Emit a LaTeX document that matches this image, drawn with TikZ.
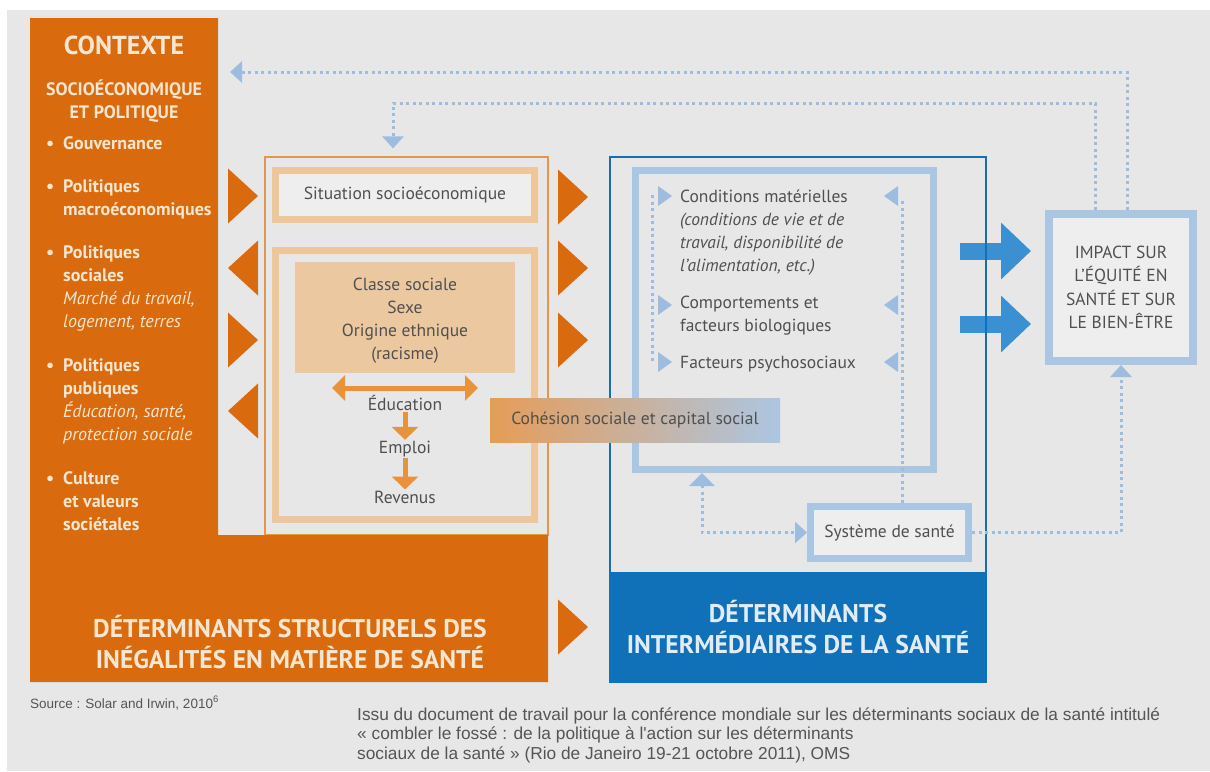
\documentclass[tikz,border=0pt]{standalone}
\usepackage{fontspec}
\setsansfont{PT Sans}
\newfontfamily\footfont{Liberation Sans}
\usetikzlibrary{arrows.meta, positioning}

\tikzset{
  otriR/.pic={\fill[orangeC] (-15,-27.5) -- (15,0) -- (-15,27.5) -- cycle;},
  otriL/.pic={\fill[orangeC] (15,-27.5) -- (-15,0) -- (15,27.5) -- cycle;},
  btriR/.pic={\fill[dotblue] (-7,-10) -- (7,0) -- (-7,10) -- cycle;},
  btriL/.pic={\fill[dotblue] (7,-10) -- (-7,0) -- (7,10) -- cycle;},
}

\begin{document}
\begin{tikzpicture}[x=1pt, y=-1pt,
    font=\sffamily\fontsize{17.5}{23}\selectfont,
    ctxtext/.style={text=cream, inner sep=0pt},
    ctxitem/.style={ctxtext, anchor=base west, align=left, font=\sffamily\bfseries\fontsize{18}{23.3}\selectfont},
    orframe/.style={draw=lightor, line width=7pt, inner sep=0pt, text=textgray},
    blframe/.style={draw=lightblue, line width=7pt, inner sep=0pt, text=textgray},
    plain/.style={text=textgray, inner sep=1pt},
    dotline/.style={draw=dotblue, line width=3pt, dash pattern=on 3pt off 3.5pt},
    dottip/.style={-{Triangle[width=21pt,length=12pt]}},
    orarrow/.style={draw=orarrowC, line width=5pt},
    bigarrow/.style={draw=arrowblue, line width=17pt, -{Triangle[width=55pt,length=30pt]}},
    bigtitle/.style={inner sep=0pt, align=center, font=\sffamily\bfseries\fontsize{25.6}{30.5}\selectfont}]
   \definecolor{bggray}{RGB}{231,231,231}
   \definecolor{innergray}{RGB}{238,238,238}
   \definecolor{orangeC}{RGB}{217,107,14}
   \definecolor{cream}{RGB}{248,230,208}
   \definecolor{lightor}{RGB}{238,198,156}
   \definecolor{tanfill}{RGB}{236,200,160}
   \definecolor{orline}{RGB}{232,150,70}
   \definecolor{orarrowC}{RGB}{232,146,58}
   \definecolor{blueC}{RGB}{16,112,184}
   \definecolor{lightblue}{RGB}{170,198,226}
   \definecolor{dotblue}{RGB}{158,188,222}
   \definecolor{arrowblue}{RGB}{58,144,208}
   \definecolor{textgray}{RGB}{80,80,80}
   \definecolor{footgray}{RGB}{85,85,85}
   \definecolor{bluetext}{RGB}{226,236,246}
   \definecolor{cohL}{RGB}{230,156,88}
   \definecolor{cohM}{RGB}{236,228,220}
   \definecolor{cohR}{RGB}{172,198,226}

   \useasboundingbox (0,0) rectangle (1210,771);
   \fill[bggray] (7,10) rectangle (1210,771);

   % structural side
   \node [draw=orline, line width=1.2pt, inner sep=0pt,
    minimum width=283pt, minimum height=378pt] (struct) at (406.5,346) {};
   \fill[orangeC] (30,18) -- (218,18) -- (218,535) -- (548,535) -- (548,682) -- (30,682) -- cycle;

   \node [ctxtext, font=\sffamily\bfseries\fontsize{26}{30}\selectfont] (ctx) at (124,45) {CONTEXTE};
   \node [ctxtext, align=center, font=\sffamily\bfseries\fontsize{18}{23}\selectfont,
    below=25pt of ctx] (ctxsub) {SOCIOÉCONOMIQUE\\ET POLITIQUE};
   \foreach \y in {149,192,258,371,484}
     \node [ctxitem] at (46,\y) {\textbullet};
   % multi-line nodes sit on their last baseline
   \node [ctxitem] (gouv) at (63,149) {Gouvernance};
   \node [ctxitem] (macro) at (63,215.3) {Politiques\\macroéconomiques};
   \node [ctxitem] (soc) at (63,327.9) {Politiques\\sociales\\{\mdseries\itshape Marché du travail,}\\{\mdseries\itshape logement, terres}};
   \node [ctxitem] (pub) at (63,440.9) {Politiques\\publiques\\{\mdseries\itshape Éducation, santé,}\\{\mdseries\itshape protection sociale}};
   \node [ctxitem] (cult) at (63,530.6) {Culture\\et valeurs\\sociétales};

   \pic at (243,196) {otriR};
   \pic at (243,268) {otriL};
   \pic at (243,340) {otriR};
   \pic at (243,411) {otriL};
   \pic at (573,197) {otriR};
   \pic at (573,268) {otriR};
   \pic at (573,340) {otriR};
   \pic at (573,627) {otriR};

   \node [orframe, fill=innergray, minimum width=259pt, minimum height=49pt] (situ) at (405,195) {Situation socioéconomique};
   \node [orframe, minimum width=259pt, minimum height=269pt] (classframe) at (405,385) {};
   \node [fill=tanfill, minimum width=220pt, minimum height=111pt] (classe) at (405,317.5) {};
   \node [text=textgray, align=center, inner sep=0pt] (classetxt) at (405,320.5)
    {Classe sociale\\Sexe\\Origine ethnique\\(racisme)};
   \coordinate (edL) at (332,388);
   \coordinate (edR) at (478,388);
   \draw[orarrow, {Triangle[width=25pt,length=13pt]}-{Triangle[width=25pt,length=13pt]}] (edL) -- (edR);
   \node [plain] (educ) at (405,403) {Éducation};
   \node [plain] (emploi) at (405,449) {Emploi};
   \node [plain] (revenus) at (405,497) {Revenus};
   \draw[orarrow, -{Triangle[width=26pt,length=13pt]}] (educ.south) -- (emploi.north);
   \draw[orarrow, -{Triangle[width=26pt,length=13pt]}] (emploi.south) -- (revenus.north);

   \node [bigtitle, text=cream] (structlbl) at (290,642) {DÉTERMINANTS STRUCTURELS DES\\INÉGALITÉS EN MATIÈRE DE SANTÉ};

   % intermediary side
   \coordinate (a1s) at (960,251);
   \coordinate (a1e) at (1031,251);
   \coordinate (a2s) at (960,324);
   \coordinate (a2e) at (1031,324);
   \draw[bigarrow] (a1s) -- (a1e);
   \draw[bigarrow] (a2s) -- (a2e);

   \node [draw=blueC, line width=2pt, inner sep=0pt,
    minimum width=376pt, minimum height=525pt] (interm) at (798,419.5) {};
   \node [bigtitle, fill=blueC, text=bluetext, minimum width=376pt, minimum height=110pt] (intermlbl) at (798,627) {DÉTERMINANTS\\INTERMÉDIAIRES DE LA SANTÉ};

   \node [blframe, minimum width=298pt, minimum height=299pt] (detframe) at (784.5,320) {};
   \node [plain, anchor=base west, align=left] (condmat) at (679,271)
    {Conditions matérielles\\\textit{(conditions de vie et de}\\\textit{travail, disponibilité de}\\\textit{l’alimentation, etc.)}};
   \node [plain, anchor=base west, align=left] (comport) at (679,331) {Comportements et\\facteurs biologiques};
   \node [plain, anchor=base west] (psycho) at (679,368) {Facteurs psychosociaux};

   \node [blframe, fill=innergray, minimum width=158pt, minimum height=52pt] (sys) at (889.5,532.5) {Système de santé};

   \node [blframe, fill=innergray, line width=8pt, align=center, font=\sffamily\fontsize{17.5}{23.5}\selectfont,
    minimum width=144pt, minimum height=147pt] (impact) at (1121,287.5)
    {IMPACT SUR\\L’ÉQUITÉ EN\\SANTÉ ET SUR\\LE BIEN-ÊTRE};

   \node [fill=none, inner sep=0pt, left color=cohL, middle color=cohM, right color=cohR, text=textgray,
    minimum width=290pt, minimum height=44pt] (cohesion) at (635,420) {Cohésion sociale et capital social};

   % feedback lines
   \coordinate (fbL) at (652,195);
   \coordinate (fbLb) at (652,363);
   \draw[dotline] (fbL) -- (fbLb);
   \draw[dotline] ([xshift=12.5pt]sys.north) -- ++(0,-305);
   \foreach \y in {196,305,362} {
     \pic at (665,\y) {btriR};
     \pic at (891,\y) {btriL};
   }
   \coordinate (ctxarr) at (230,72);
   \coordinate (topB) at (393,103);
   \coordinate (frameup) at (702,473);
   \draw[dotline, dottip] ([xshift=6pt]impact.north) |- (ctxarr);
   \draw[dotline, dottip, shorten >=8pt] ([xshift=-26pt]impact.north) |- (topB) -- (topB |- struct.north);
   \draw[dotline, dottip] (sys.east) -| (impact.south);
   \draw[dotline, {Triangle[width=25pt,length=13pt]}-{Triangle[width=21pt,length=12pt]}] (frameup) |- (sys.west);

   % sources
   \node [anchor=base west, inner sep=0pt, text=footgray, font=\footfont\fontsize{13.5}{15}\selectfont] (src) at (30,708)
    {Source : Solar and Irwin, 2010\textsuperscript{6}};
   \node [anchor=base west, inner sep=0pt, align=left, text=footgray, font=\footfont\fontsize{17.3}{19.5}\selectfont] (issu) at (357,759)
    {Issu du document de travail pour la conférence mondiale sur les déterminants sociaux de la santé intitulé\\« combler le fossé : de la politique à l'action sur les déterminants\\sociaux de la santé » (Rio de Janeiro 19-21 octobre 2011), OMS};
\end{tikzpicture}
\end{document}
